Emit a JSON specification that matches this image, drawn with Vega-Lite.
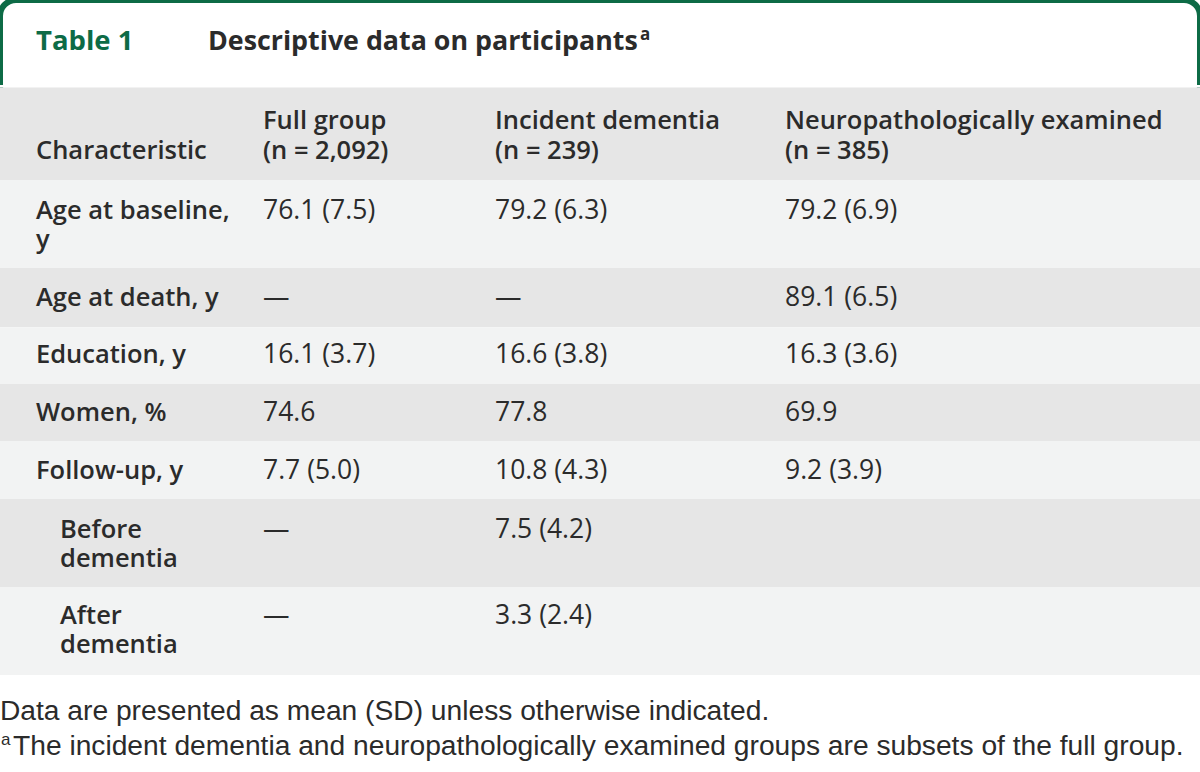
{
  "$schema": "https://vega.github.io/schema/vega-lite/v6.json",
  "width": 1200,
  "height": 772,
  "autosize": {"type": "none"},
  "padding": 0,
  "background": "#ffffff",
  "config": {"view": {"stroke": null}},
  "datasets": {
    "bands": [
      {"band": "gap", "top": 2.92, "bottom": 3.0, "shade": "white"},
      {"band": "header", "top": 3.0, "bottom": 6.18, "shade": "dark"},
      {"band": "Age at baseline", "top": 6.18, "bottom": 9.2, "shade": "light"},
      {"band": "Age at death", "top": 9.2, "bottom": 11.23, "shade": "dark"},
      {"band": "Education", "top": 11.23, "bottom": 13.18, "shade": "light"},
      {"band": "Women", "top": 13.18, "bottom": 15.14, "shade": "dark"},
      {"band": "Follow-up", "top": 15.14, "bottom": 17.13, "shade": "light"},
      {"band": "Before dementia", "top": 17.13, "bottom": 20.15, "shade": "dark"},
      {"band": "After dementia", "top": 20.15, "bottom": 23.17, "shade": "light"}
    ],
    "frame": [{"top": 0, "bottom": 3.5}],
    "cells": [
      {"kind": "tnum", "col": 0, "y": 1.44, "text": "Table 1"},
      {"kind": "ttext", "col": 0, "y": 1.44, "text": "Descriptive data on participants"},
      {"kind": "tsup", "col": 0, "y": 1.2, "text": "a"},
      {"kind": "head", "col": 0, "y": 5.17, "text": "Characteristic"},
      {"kind": "head", "col": 1, "y": 4.17, "text": "Full group"},
      {"kind": "head", "col": 1, "y": 5.17, "text": "(n = 2,092)"},
      {"kind": "head", "col": 2, "y": 4.17, "text": "Incident dementia"},
      {"kind": "head", "col": 2, "y": 5.17, "text": "(n = 239)"},
      {"kind": "head", "col": 3, "y": 4.17, "text": "Neuropathologically examined"},
      {"kind": "head", "col": 3, "y": 5.17, "text": "(n = 385)"},
      {"kind": "label", "col": 0, "y": 7.23, "text": "Age at baseline,"},
      {"kind": "label", "col": 0, "y": 8.24, "text": "y"},
      {"kind": "label", "col": 0, "y": 10.24, "text": "Age at death, y"},
      {"kind": "label", "col": 0, "y": 12.2, "text": "Education, y"},
      {"kind": "label", "col": 0, "y": 14.18, "text": "Women, %"},
      {"kind": "label", "col": 0, "y": 16.17, "text": "Follow-up, y"},
      {"kind": "sublabel", "col": 0, "y": 18.2, "text": "Before"},
      {"kind": "sublabel", "col": 0, "y": 19.19, "text": "dementia"},
      {"kind": "sublabel", "col": 0, "y": 21.16, "text": "After"},
      {"kind": "sublabel", "col": 0, "y": 22.15, "text": "dementia"},
      {"kind": "value", "col": 1, "y": 7.23, "text": "76.1 (7.5)"},
      {"kind": "value", "col": 2, "y": 7.23, "text": "79.2 (6.3)"},
      {"kind": "value", "col": 3, "y": 7.23, "text": "79.2 (6.9)"},
      {"kind": "value", "col": 1, "y": 10.24, "text": "—"},
      {"kind": "value", "col": 2, "y": 10.24, "text": "—"},
      {"kind": "value", "col": 3, "y": 10.24, "text": "89.1 (6.5)"},
      {"kind": "value", "col": 1, "y": 12.2, "text": "16.1 (3.7)"},
      {"kind": "value", "col": 2, "y": 12.2, "text": "16.6 (3.8)"},
      {"kind": "value", "col": 3, "y": 12.2, "text": "16.3 (3.6)"},
      {"kind": "value", "col": 1, "y": 14.18, "text": "74.6"},
      {"kind": "value", "col": 2, "y": 14.18, "text": "77.8"},
      {"kind": "value", "col": 3, "y": 14.18, "text": "69.9"},
      {"kind": "value", "col": 1, "y": 16.17, "text": "7.7 (5.0)"},
      {"kind": "value", "col": 2, "y": 16.17, "text": "10.8 (4.3)"},
      {"kind": "value", "col": 3, "y": 16.17, "text": "9.2 (3.9)"},
      {"kind": "value", "col": 1, "y": 18.2, "text": "—"},
      {"kind": "value", "col": 2, "y": 18.2, "text": "7.5 (4.2)"},
      {"kind": "value", "col": 1, "y": 21.16, "text": "—"},
      {"kind": "value", "col": 2, "y": 21.16, "text": "3.3 (2.4)"},
      {"kind": "note", "col": 0, "y": 24.45, "text": "Data are presented as mean (SD) unless otherwise indicated."},
      {"kind": "note2", "col": 0, "y": 25.64, "text": "The incident dementia and neuropathologically examined groups are subsets of the full group."},
      {"kind": "notesup", "col": 0, "y": 25.4, "text": "a"}
    ]
  },
  "encoding": {
    "y": {"field": "top", "type": "quantitative", "scale": {"domain": [0, 26.5], "reverse": true, "nice": false, "zero": false}, "axis": null}
  },
  "layer": [
    {
      "data": {"name": "frame"},
      "mark": {"type": "rect", "fill": null, "fillOpacity": 0, "stroke": "#0d6b46", "strokeWidth": 6, "cornerRadius": 16},
      "encoding": {"y2": {"field": "bottom"}}
    },
    {
      "data": {"name": "bands"},
      "mark": {"type": "rect"},
      "encoding": {
        "y2": {"field": "bottom"},
        "color": {"field": "shade", "type": "nominal", "scale": {"domain": ["white", "dark", "light"], "range": ["#ffffff", "#e6e6e6", "#f2f3f3"]}, "legend": null}
      }
    },
    {
      "data": {"name": "cells"},
      "encoding": {
        "x": {"field": "col", "type": "quantitative", "scale": {"domain": [0, 1, 2, 3], "range": [36, 263, 495, 785], "nice": false, "zero": false}, "axis": null},
        "y": {"field": "y", "type": "quantitative"},
        "text": {"field": "text"}
      },
      "layer": [
        {"transform": [{"filter": "datum.kind === 'tnum'"}], "mark": {"type": "text", "align": "left", "baseline": "middle", "font": "Open Sans", "fontWeight": 700, "fontSize": 27.5, "color": "#0d6b46"}},
        {"transform": [{"filter": "datum.kind === 'ttext'"}], "mark": {"type": "text", "align": "left", "baseline": "middle", "dx": 172, "font": "Open Sans", "fontWeight": 700, "fontSize": 26.8, "color": "#2b2b2b"}},
        {"transform": [{"filter": "datum.kind === 'tsup'"}], "mark": {"type": "text", "align": "left", "baseline": "middle", "dx": 604, "font": "Open Sans", "fontWeight": 700, "fontSize": 17, "color": "#2b2b2b"}},
        {"transform": [{"filter": "datum.kind === 'head' || datum.kind === 'label'"}], "mark": {"type": "text", "align": "left", "baseline": "middle", "font": "Open Sans", "fontWeight": 600, "fontSize": 25.5, "color": "#2b2b2b"}},
        {"transform": [{"filter": "datum.kind === 'sublabel'"}], "mark": {"type": "text", "align": "left", "baseline": "middle", "dx": 24, "font": "Open Sans", "fontWeight": 600, "fontSize": 25.5, "color": "#2b2b2b"}},
        {"transform": [{"filter": "datum.kind === 'value'"}], "mark": {"type": "text", "align": "left", "baseline": "middle", "font": "Open Sans", "fontWeight": 400, "fontSize": 26.5, "color": "#2b2b2b"}},
        {"transform": [{"filter": "datum.kind === 'note'"}], "mark": {"type": "text", "align": "left", "baseline": "middle", "dx": -36, "font": "Liberation Sans", "fontWeight": 400, "fontSize": 28.2, "color": "#2b2b2b"}},
        {"transform": [{"filter": "datum.kind === 'note2'"}], "mark": {"type": "text", "align": "left", "baseline": "middle", "dx": -23, "font": "Liberation Sans", "fontWeight": 400, "fontSize": 28.2, "color": "#2b2b2b"}},
        {"transform": [{"filter": "datum.kind === 'notesup'"}], "mark": {"type": "text", "align": "left", "baseline": "middle", "dx": -35, "font": "Liberation Sans", "fontWeight": 400, "fontSize": 17, "color": "#2b2b2b"}}
      ]
    }
  ]
}
